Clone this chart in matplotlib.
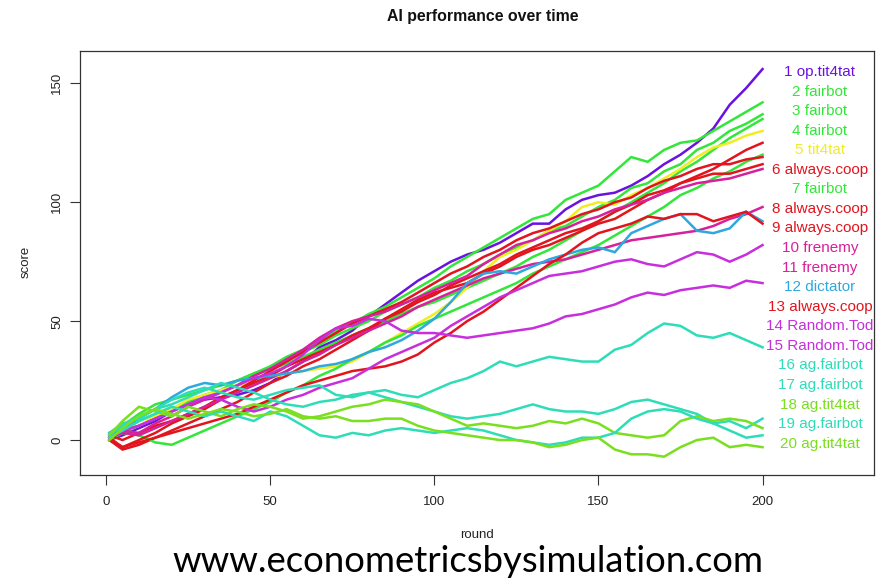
import matplotlib
matplotlib.use('Agg')
import matplotlib.pyplot as plt

rounds = [1, 5, 10, 15, 20, 25, 30, 35, 40, 45, 50, 55, 60, 65, 70, 75, 80, 85, 90, 95, 100,
          105, 110, 115, 120, 125, 130, 135, 140, 145, 150, 155, 160, 165, 170, 175, 180, 185, 190, 195, 200]

labels = ["1 op.tit4tat", "2 fairbot", "3 fairbot", "4 fairbot", "5 tit4tat",
          "6 always.coop", "7 fairbot", "8 always.coop", "9 always.coop", "10 frenemy",
          "11 frenemy", "12 dictator", "13 always.coop", "14 Random.Tod", "15 Random.Tod",
          "16 ag.fairbot", "17 ag.fairbot", "18 ag.tit4tat", "19 ag.fairbot", "20 ag.tit4tat"]

strategy = ["op.tit4tat", "fairbot", "fairbot", "fairbot", "tit4tat",
            "always.coop", "fairbot", "always.coop", "always.coop", "frenemy",
            "frenemy", "dictator", "always.coop", "Random.Tod", "Random.Tod",
            "ag.fairbot", "ag.fairbot", "ag.tit4tat", "ag.fairbot", "ag.tit4tat"]

strategy_colors = {
    "op.tit4tat": "#6A12E0",
    "fairbot": "#33E63A",
    "tit4tat": "#EEEE22",
    "always.coop": "#E2141E",
    "frenemy": "#D8209C",
    "dictator": "#2EA8DF",
    "Random.Tod": "#C82FDC",
    "ag.fairbot": "#2EDDB8",
    "ag.tit4tat": "#7ADF1F",
}

s01 = [0, 2, 5, 8, 12, 16, 17, 18, 19, 21, 24, 29, 33, 39, 42, 46, 52, 57, 62, 67, 71, 75, 78, 80, 83, 87, 91, 91, 97, 101, 103, 104, 107, 111, 116, 120, 125, 131, 141, 148, 156]
s02 = [2, 3, 6, 9, 12, 15, 18, 21, 25, 28, 31, 35, 38, 42, 46, 49, 53, 56, 60, 64, 68, 73, 77, 81, 85, 89, 93, 95, 101, 104, 107, 113, 119, 117, 122, 125, 126, 130, 134, 138, 142]
s03 = [1, 4, 8, 11, 13, 16, 19, 21, 23, 27, 30, 33, 37, 40, 44, 47, 50, 54, 57, 60, 64, 67, 71, 74, 78, 81, 84, 88, 90, 94, 98, 101, 106, 108, 113, 116, 122, 125, 130, 133, 137]
s04 = [3, 6, 11, 15, 17, 19, 21, 23, 25, 28, 30, 32, 35, 38, 41, 44, 47, 50, 53, 56, 58, 61, 64, 67, 70, 73, 77, 80, 84, 88, 92, 96, 100, 104, 108, 113, 117, 122, 127, 131, 135]
s05 = [2, 4, 6, 10, 13, 17, 19, 21, 23, 24, 26, 28, 29, 30, 31, 33, 37, 41, 45, 49, 53, 58, 64, 71, 77, 80, 84, 88, 92, 98, 100, 99, 103, 106, 110, 114, 119, 123, 125, 128, 130]
s06 = [0, -4, -2, 1, 4, 7, 10, 13, 16, 20, 24, 27, 31, 34, 38, 42, 46, 51, 55, 59, 62, 64, 66, 70, 73, 77, 80, 82, 85, 88, 91, 93, 97, 101, 104, 108, 111, 114, 118, 122, 125]
s07 = [0, 3, 2, -1, -2, 1, 4, 7, 10, 13, 16, 20, 23, 27, 30, 34, 37, 41, 44, 48, 51, 54, 57, 60, 63, 66, 70, 73, 76, 79, 82, 86, 90, 94, 98, 103, 106, 110, 113, 117, 120]
s08 = [1, -3, 0, 3, 7, 10, 13, 17, 21, 25, 29, 33, 37, 41, 45, 49, 52, 55, 58, 62, 66, 70, 73, 77, 80, 84, 87, 89, 92, 95, 97, 100, 102, 106, 109, 111, 114, 116, 116, 118, 119]
s09 = [2, 0, 3, 6, 8, 11, 14, 18, 21, 24, 27, 31, 34, 37, 40, 44, 47, 51, 54, 58, 61, 65, 68, 71, 74, 78, 81, 84, 87, 89, 92, 96, 99, 103, 105, 108, 110, 112, 112, 114, 116]
s10 = [2, 4, 3, 7, 10, 14, 17, 20, 23, 27, 30, 34, 38, 43, 47, 50, 52, 54, 57, 60, 63, 66, 69, 74, 78, 82, 84, 87, 89, 92, 94, 97, 99, 101, 104, 106, 108, 109, 110, 112, 114]
s11 = [1, 3, 2, 5, 8, 11, 14, 17, 20, 23, 26, 29, 33, 36, 40, 43, 46, 49, 52, 56, 59, 62, 65, 68, 70, 72, 74, 75, 76, 78, 80, 82, 84, 85, 86, 87, 88, 90, 93, 95, 98]
s12 = [3, 5, 9, 13, 18, 22, 24, 23, 25, 26, 27, 28, 29, 31, 32, 34, 37, 39, 42, 46, 51, 58, 66, 70, 71, 70, 73, 76, 78, 80, 81, 79, 87, 90, 93, 95, 88, 87, 89, 96, 92]
s13 = [0, -3, -1, 1, 3, 5, 7, 9, 11, 14, 17, 20, 23, 25, 27, 29, 30, 31, 33, 36, 41, 45, 50, 54, 59, 64, 69, 74, 78, 83, 87, 89, 91, 94, 93, 95, 95, 92, 94, 96, 91]
s14 = [1, 4, 6, 9, 12, 15, 18, 17, 14, 12, 14, 17, 19, 22, 24, 26, 30, 34, 37, 40, 43, 48, 52, 56, 60, 63, 66, 69, 70, 71, 73, 75, 76, 74, 73, 76, 79, 78, 75, 78, 82]
s15 = [2, 4, 6, 9, 12, 15, 18, 20, 23, 26, 28, 31, 36, 42, 47, 48, 51, 50, 46, 45, 45, 44, 43, 44, 45, 46, 47, 49, 52, 53, 55, 57, 60, 62, 61, 63, 64, 65, 64, 67, 66]
s16 = [2, 6, 10, 13, 17, 20, 22, 20, 18, 17, 19, 21, 22, 23, 19, 18, 20, 21, 19, 18, 21, 24, 26, 29, 33, 31, 33, 35, 34, 33, 33, 38, 40, 45, 49, 48, 44, 43, 45, 42, 39]
s17 = [3, 7, 9, 13, 15, 18, 21, 24, 22, 20, 17, 15, 14, 16, 17, 19, 20, 18, 16, 14, 12, 10, 9, 10, 11, 13, 15, 13, 12, 12, 11, 13, 16, 17, 15, 13, 11, 7, 8, 5, 9]
s18 = [2, 8, 14, 12, 10, 14, 12, 10, 13, 15, 14, 12, 9, 10, 12, 14, 15, 17, 16, 15, 12, 9, 6, 7, 6, 5, 6, 8, 7, 9, 7, 3, 2, 1, 2, 8, 10, 8, 9, 8, 5]
s19 = [1, 4, 8, 11, 14, 12, 10, 12, 10, 8, 12, 10, 6, 2, 1, 3, 2, 4, 5, 4, 3, 4, 5, 4, 2, 0, -1, -2, -1, 1, 1, 3, 9, 12, 13, 12, 9, 7, 4, 1, 2]
s20 = [0, 5, 10, 13, 11, 9, 11, 13, 12, 10, 11, 13, 10, 9, 10, 8, 8, 9, 9, 6, 4, 3, 2, 1, 0, 0, -1, -3, -2, 0, 1, -4, -6, -6, -7, -3, 0, 1, -3, -2, -3]

series = [s01, s02, s03, s04, s05, s06, s07, s08, s09, s10,
          s11, s12, s13, s14, s15, s16, s17, s18, s19, s20]

W, H = 876, 584
fig = plt.figure(figsize=(W / 100, H / 100), dpi=100)
fig.patch.set_facecolor('white')

# plot box in pixels: left 80, right 874, top 51, bottom 475
L, R, T, B = 80, 874, 51, 475
ax = fig.add_axes([L / W, 1 - B / H, (R - L) / W, (B - T) / H])

for vals, strat in zip(series, strategy):
    ax.plot(rounds, vals, color=strategy_colors[strat], lw=1.8, solid_joinstyle='miter')

ax.set_xlim(-7.96, 233.96)
ax.set_ylim(-14.7, 163.6)
ax.set_xticks([0, 50, 100, 150, 200])
ax.set_yticks([0, 50, 100, 150])
ax.set_yticklabels(['0', '50', '100', '150'], rotation=90, va='center')
for sp in ax.spines.values():
    sp.set_color('#333333')
    sp.set_linewidth(0.9)
tick_font = 'Liberation Sans'
ax.tick_params(axis='both', length=7, width=0.8, color='#333333', labelcolor='#222222', labelsize=9.5)
ax.tick_params(axis='x', pad=8)
ax.tick_params(axis='y', pad=5)
for t in ax.get_xticklabels() + ax.get_yticklabels():
    t.set_fontfamily(tick_font)


def px(x, y):
    return x / W, 1 - y / H


fig.text(*px(483, 17), "AI performance over time", ha='center', va='center',
         fontsize=11.4, fontweight='bold', family='Liberation Sans', color='#111111')
fig.text(*px(26, 262), "score", ha='center', va='center', rotation=90,
         fontsize=9.5, family='Liberation Sans', color='#222222')
fig.text(*px(477, 535), "round", ha='center', va='center',
         fontsize=9.5, family='Liberation Sans', color='#222222')

# right-hand labels
top_y, step = 72, 19.56
for i, (lab, strat) in enumerate(zip(labels, strategy)):
    fig.text(*px(820, top_y + step * i), lab, ha='center', va='center',
             fontsize=11, family='Liberation Sans', color=strategy_colors[strat])

# website caption, fitted to width
web = fig.text(*px(468, 572), "www.econometricsbysimulation.com", ha='center', va='baseline',
               fontsize=24, family='Lato', color='black')
fig.canvas.draw()
bb = web.get_window_extent()
web.set_fontsize(24 * 592 / bb.width)

fig.savefig('out.png', dpi=100)
